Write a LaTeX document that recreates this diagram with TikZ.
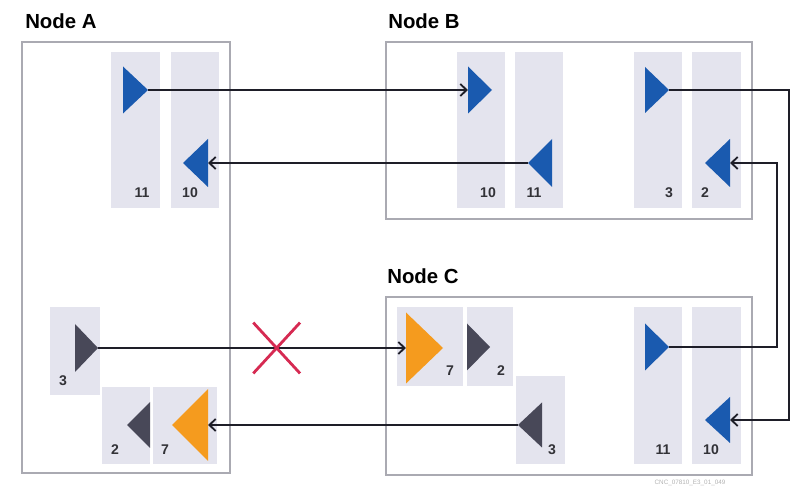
\documentclass[tikz,border=0pt]{standalone}
\usepackage{fontspec}
\setmainfont{Liberation Sans}
\usetikzlibrary{shapes.geometric,shapes.misc,arrows.meta}

\definecolor{portblue}{RGB}{26,90,175}
\definecolor{portorange}{RGB}{245,155,30}
\definecolor{portgray}{RGB}{72,72,88}
\definecolor{colfill}{RGB}{228,228,238}
\definecolor{framegray}{RGB}{170,170,178}
\definecolor{linkcol}{RGB}{30,30,40}
\definecolor{cutred}{RGB}{214,42,82}
\definecolor{numgray}{RGB}{50,50,55}

\begin{document}
\begin{tikzpicture}
	[x=0.25mm,y=-0.25mm,
	 frame/.style={draw=framegray,line width=1.3pt},
	 column/.style={fill=colfill},
	 title/.style={anchor=base west,inner sep=0,font=\fontsize{14.5}{16}\selectfont\bfseries},
	 num/.style={anchor=base,inner sep=0,text=numgray,font=\fontsize{10}{12}\selectfont\bfseries},
	 tri/.style 2 args={isosceles triangle,isosceles triangle stretches,inner sep=0,outer sep=0,
	   minimum height=#1*0.25mm,minimum width=#2*0.25mm,anchor=apex},
	 flip/.style={rotate=180},
	 link/.style={-{Straight Barb[length=1.6mm,width=3mm]},draw=linkcol,line width=1.3pt},
	 cut/.style={cross out,draw=cutred,line width=2pt,minimum width=11mm,minimum height=12mm,inner sep=0}]
	\useasboundingbox (0,0) rectangle (791,492);

	%
	% Node A
	%
	\node[title] (ta) at (25,29) {Node A};
	\draw[frame] (22,42) rectangle (230,473);
	\fill[column] (111,52) rectangle (160,208);
	\fill[column] (171,52) rectangle (219,208);
	\fill[column] (50,307) rectangle (100,395);
	\fill[column] (102,387) rectangle (150,464);
	\fill[column] (153,387) rectangle (217,464);
	% ports
	\node[tri={25}{47},fill=portblue] (a11) at (148,90) {};
	\node[tri={25}{48},fill=portblue,flip] (a10) at (183,163) {};
	\node[tri={23}{48},fill=portgray] (a3) at (98,348) {};
	\node[tri={23}{46},fill=portgray,flip] (a2) at (127,425) {};
	\node[tri={36}{72},fill=portorange,flip] (a7) at (172,425) {};
	% labels
	\node[num] (na11) at (142,198) {11};
	\node[num] (na10) at (190,198) {10};
	\node[num] (na3) at (63,386) {3};
	\node[num] (na2) at (115,455) {2};
	\node[num] (na7) at (165,455) {7};

	%
	% Node B
	%
	\node[title] (tb) at (388,29) {Node B};
	\draw[frame] (386,42) rectangle (752,219);
	\fill[column] (457,52) rectangle (505,208);
	\fill[column] (515,52) rectangle (563,208);
	\fill[column] (634,52) rectangle (682,208);
	\fill[column] (692,52) rectangle (741,208);
	% ports
	\node[tri={24}{47},fill=portblue] (b10) at (492,90) {};
	\node[tri={24}{48},fill=portblue,flip] (b11) at (528,163) {};
	\node[tri={24}{46},fill=portblue] (b3) at (669,90) {};
	\node[tri={25}{48},fill=portblue,flip] (b2) at (705,163) {};
	% labels
	\node[num] (nb10) at (488,198) {10};
	\node[num] (nb11) at (534,198) {11};
	\node[num] (nb3) at (669,198) {3};
	\node[num] (nb2) at (705,198) {2};

	%
	% Node C
	%
	\node[title] (tc) at (387,284) {Node C};
	\draw[frame] (386,297) rectangle (752,475);
	\fill[column] (397,307) rectangle (463,386);
	\fill[column] (467,307) rectangle (513,386);
	\fill[column] (516,376) rectangle (565,464);
	\fill[column] (634,307) rectangle (682,464);
	\fill[column] (692,307) rectangle (741,464);
	% ports
	\node[tri={37}{71},fill=portorange] (c7) at (443,348) {};
	\node[tri={23}{47},fill=portgray] (c2) at (490,347) {};
	\node[tri={24}{45},fill=portgray,flip] (c3) at (518,425) {};
	\node[tri={24}{47},fill=portblue] (c11) at (669,347) {};
	\node[tri={25}{46},fill=portblue,flip] (c10) at (705,420) {};
	% labels
	\node[num] (nc7) at (450,376) {7};
	\node[num] (nc2) at (501,376) {2};
	\node[num] (nc3) at (552,454) {3};
	\node[num] (nc11) at (663,454) {11};
	\node[num] (nc10) at (711,454) {10};

	\node[font=\fontsize{4.5}{5}\selectfont,text=black!30] (code) at (690,483) {CNC\_07810\_E3\_01\_049};

	%
	% links
	%
	\coordinate (rim) at (789,0);
	\coordinate (loop) at (777,0);
	\draw[link] (a11.apex) -- (b10.lower side);
	\draw[link] (b11.apex) -- (a10.lower side);
	\draw[link] (b3.apex) -- (b3.apex -| rim) |- (c10.lower side);
	\draw[link] (c11.apex) -- (c11.apex -| loop) |- (b2.lower side);
	\draw[link] (a3.apex) -- (c7.lower side)
		node[cut,pos=0.58] (x) {};
	\draw[link] (c3.apex) -- (a7.lower side);

\end{tikzpicture}
\end{document}
